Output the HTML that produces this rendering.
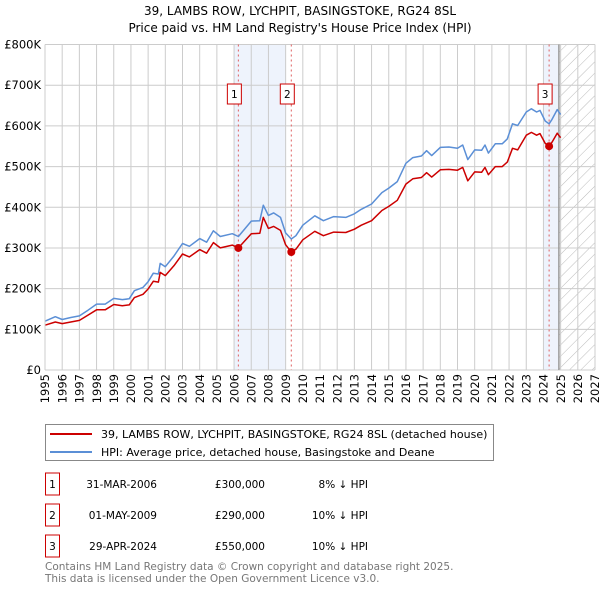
<!DOCTYPE html>
<html><head><meta charset="utf-8"><style>
body{margin:0;background:#fff;width:600px;height:590px;overflow:hidden}
svg text{font-family:"DejaVu Sans","Liberation Sans",sans-serif}
</style></head><body>
<svg id="chart" width="600" height="590" xmlns="http://www.w3.org/2000/svg">
<defs><pattern id="hatch" patternUnits="userSpaceOnUse" width="8" height="8" patternTransform="rotate(45)"><line x1="0" y1="0" x2="0" y2="8" stroke="#bbb" stroke-width="1"/></pattern></defs>
<text x="300" y="15" font-size="12" text-anchor="middle">39, LAMBS ROW, LYCHPIT, BASINGSTOKE, RG24 8SL</text>
<text x="300" y="32" font-size="12" text-anchor="middle">Price paid vs. HM Land Registry's House Price Index (HPI)</text>
<g id="plot"></g>
<g>
<rect x="45.5" y="424.5" width="448" height="36" fill="#fff" stroke="#888"/>
<line x1="50" y1="434" x2="92" y2="434" stroke="#cc0000" stroke-width="2"/>
<text x="101" y="438" font-size="11">39, LAMBS ROW, LYCHPIT, BASINGSTOKE, RG24 8SL (detached house)</text>
<line x1="50" y1="452" x2="92" y2="452" stroke="#5b8fd6" stroke-width="2"/>
<text x="101" y="456" font-size="11">HPI: Average price, detached house, Basingstoke and Deane</text>
</g>
<g id="table"></g>
<text x="45" y="570" font-size="10.5" fill="#777">Contains HM Land Registry data © Crown copyright and database right 2025.</text>
<text x="45" y="582" font-size="10.5" fill="#777">This data is licensed under the Open Government Licence v3.0.</text>
</svg>
<script>
const years=[1995.0,1995.6,1996.0,1996.5,1997.0,1997.5,1998.0,1998.5,1999.0,1999.5,1999.9,2000.2,2000.7,2001.0,2001.3,2001.6,2001.7,2002.0,2002.5,2003.0,2003.4,2004.0,2004.4,2004.8,2005.2,2005.9,2006.25,2007.0,2007.5,2007.7,2008.0,2008.3,2008.7,2009.0,2009.33,2009.6,2010.0,2010.7,2011.2,2011.8,2012.5,2013.0,2013.4,2014.0,2014.6,2015.0,2015.5,2016.0,2016.4,2016.9,2017.2,2017.5,2018.0,2018.5,2019.0,2019.3,2019.6,2020.0,2020.4,2020.6,2020.8,2021.2,2021.6,2021.9,2022.2,2022.5,2023.0,2023.3,2023.6,2023.8,2024.1,2024.33,2024.5,2024.8,2025.0];
const hpi=[120,131,124,129,133,147,162,162,176,173,175,195,203,217,238,236,262,254,280,311,304,323,314,342,328,335,328,366,367,405,380,386,375,337,322,330,356,379,367,377,375,384,395,408,436,447,463,508,522,526,539,527,547,548,545,553,517,541,540,553,533,556,556,568,605,601,634,642,634,638,612,605,616,640,628];
const price=[110,118,114,118,122,135,148,148,161,158,160,178,186,199,218,216,240,232,256,285,278,296,287,313,300,307,300,335,336,375,348,353,343,308,290,297,320,341,330,339,338,346,356,367,392,402,417,457,470,473,485,474,492,493,491,498,465,487,486,498,480,500,500,511,545,541,577,584,577,581,557,550,560,582,571];
const sales=[{n:"1",date:"31-MAR-2006",yr:2006.25,val:300,label:"£300,000",pct:"8% ↓ HPI"},{n:"2",date:"01-MAY-2009",yr:2009.33,val:290,label:"£290,000",pct:"10% ↓ HPI"},{n:"3",date:"29-APR-2024",yr:2024.33,val:550,label:"£550,000",pct:"10% ↓ HPI"}];
const yTicks=[0,100,200,300,400,500,600,700,800];
const yLabels=["£0","£100K","£200K","£300K","£400K","£500K","£600K","£700K","£800K"];
const xTicks=[1995,1996,1997,1998,1999,2000,2001,2002,2003,2004,2005,2006,2007,2008,2009,2010,2011,2012,2013,2014,2015,2016,2017,2018,2019,2020,2021,2022,2023,2024,2025,2026,2027];
const X0=45,X1=595,Y0=370,Y1=44.5;
const xs=v=>X0+(v-1995)/32*(X1-X0);
const ys=v=>Y0-v/800*(Y0-Y1);
const NS="http://www.w3.org/2000/svg";
const plot=document.getElementById('plot');
function mk(tag,attrs,parent){const e=document.createElementNS(NS,tag);for(const k in attrs)e.setAttribute(k,attrs[k]);(parent||plot).appendChild(e);return e;}
let s=mk('rect',{x:xs(2006),y:Y1,width:xs(2009)-xs(2006),height:Y0-Y1,fill:'#eef3fc'});


s=mk('rect',{x:xs(2024),y:Y1,width:xs(2024.9)-xs(2024),height:Y0-Y1,fill:'#eef3fc'});


s=mk('rect',{x:xs(2024.9),y:Y1,width:X1-xs(2024.9),height:Y0-Y1,fill:'url(#hatch)'});


yTicks.forEach((t,i)=>{const l=mk('line',{x1:X0,x2:X1,y1:ys(t),y2:ys(t),stroke:'#ccc'});


const tx=mk('text',{x:X0-4,y:ys(t)+4,'font-size':'11.5','text-anchor':'end'});tx.textContent=yLabels[i];

});
xTicks.forEach(t=>{const l=mk('line',{x1:xs(t),x2:xs(t),y1:Y1,y2:Y0,stroke:'#ccc'});


const tx=mk('text',{x:0,y:0,'font-size':'11.5','text-anchor':'end',transform:`translate(${xs(t)+4.2},${Y0+4}) rotate(-90)`});tx.textContent=t;

});
let vl=mk('line',{x1:xs(2024.9),x2:xs(2024.9),y1:Y1,y2:Y0,stroke:'#999','stroke-width':1.5});


sales.forEach(d=>{const l=mk('line',{x1:xs(d.yr),x2:xs(d.yr),y1:Y1,y2:Y0,stroke:'#e06060','stroke-dasharray':'2,3'});


const r=mk('rect',{x:xs(d.yr)-11,y:84,width:14,height:20,fill:'#fff',stroke:'#cc0000'});


const t=mk('text',{x:xs(d.yr)-4,y:98,'font-size':'10.5','text-anchor':'middle'});t.textContent=d.n;

});
function path(vals,col,name){const d=years.map((y,i)=>(i?'L':'M')+xs(y).toFixed(1)+','+ys(vals[i]).toFixed(1)).join('');
const p=mk('path',{d:d,fill:'none',stroke:col,'stroke-width':1.5,'stroke-linejoin':'round'});

}
path(hpi,'#5b8fd6','hpi-line');
path(price,'#cc0000','price-line');
sales.forEach(d=>{const c=mk('circle',{cx:xs(d.yr),cy:ys(d.val),r:4,fill:'#cc0000'});

});
mk('line',{x1:X0,x2:X0,y1:Y1,y2:Y0,stroke:'#ccc'});
const tb=document.getElementById('table');
sales.forEach((d,i)=>{const y=484+i*31;
const r=mk('rect',{x:45.5,y:y-11,width:14,height:22,fill:'#fff',stroke:'#cc0000'},tb);


const cols=[[52.5,d.n,'middle'],[157,d.date,'end'],[265,d.label,'end'],[368,d.pct,'end']];
cols.forEach(c=>{const t=mk('text',{x:c[0],y:y+4,'font-size':'10.5','text-anchor':c[2]},tb);t.textContent=c[1];

});});
</script>
</body></html>
